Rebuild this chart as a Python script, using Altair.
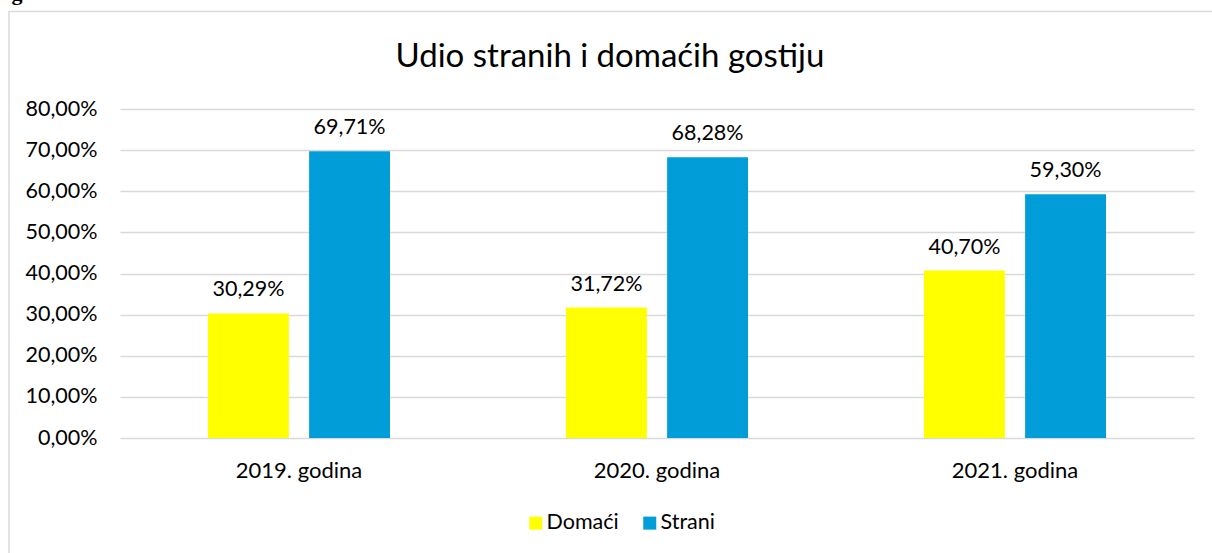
import altair as alt
import pandas as pd

title_text = "Udio stranih i domaćih gostiju"
categories = ["2019. godina", "2020. godina", "2021. godina"]
series = ["Domaći", "Strani"]
domaci = [30.29, 31.72, 40.70]
strani = [69.71, 68.28, 59.30]
colors = ["#FFFF00", "#009DD9"]
y_ticks = [0, 0.1, 0.2, 0.3, 0.4, 0.5, 0.6, 0.7, 0.8]

rows = []
for c, d, s in zip(categories, domaci, strani):
    for name, v in (("Domaći", d), ("Strani", s)):
        rows.append({"kategorija": c, "serija": name, "vrijednost": v / 100,
                     "oznaka": f"{v:.2f}%".replace(".", ",")})
df = pd.DataFrame(rows)

FONT = "Lato"
TXT = "#000000"
FS = 21.5
W, H = 1074, 329

x_enc = alt.X("kategorija:N", sort=categories, title=None,
              scale=alt.Scale(paddingInner=0.4916, paddingOuter=0.2458),
              axis=alt.Axis(labelAngle=0, domain=False, ticks=False, tickSize=0,
                            labelPadding=39, labelBaseline="alphabetic",
                            labelFont=FONT, labelFontSize=22, labelColor=TXT, grid=False))
xo_enc = alt.XOffset("serija:N", sort=series,
                     scale=alt.Scale(paddingInner=0.2, paddingOuter=0))
y_enc = alt.Y("vrijednost:Q", title=None,
              scale=alt.Scale(domain=[0, 0.8], nice=False, zero=True),
              axis=alt.Axis(values=y_ticks, domain=False, ticks=False, tickSize=0,
                            labelPadding=23, labelFont=FONT, labelFontSize=FS,
                            labelColor=TXT, gridColor="#d9d9d9", gridWidth=1.3,
                            labelExpr="replace(format(datum.value, '.2%'), '.', ',')"))

base = alt.Chart(df)

bars = base.mark_bar().encode(
    x=x_enc, xOffset=xo_enc, y=y_enc,
    color=alt.Color("serija:N", sort=series, title=None,
                    scale=alt.Scale(domain=series, range=colors),
                    legend=alt.Legend(orient="none", direction="horizontal",
                                      legendX=405, legendY=403, padding=0,
                                      symbolType="square", symbolSize=169,
                                      symbolStrokeWidth=0, labelOffset=0,
                                      columnPadding=20, labelFont=FONT,
                                      labelFontSize=FS, labelColor=TXT)),
)

labels = base.mark_text(baseline="alphabetic", dy=-17, font=FONT, fontSize=FS,
                        color=TXT).encode(
    x=alt.X("kategorija:N", sort=categories), xOffset=xo_enc,
    y=alt.Y("vrijednost:Q"), text="oznaka:N")

one_df = pd.DataFrame({"naslov": [title_text]})
frame = alt.Chart(one_df).mark_rect(fill=None, stroke="#d9d9d9", strokeWidth=1.5).encode(
    x=alt.value(-111), x2=alt.value(1110), y=alt.value(-97.5), y2=alt.value(460))

cut = alt.Chart(one_df).mark_text(text="g", font="Liberation Serif", fontWeight="bold",
                                  fontSize=22, baseline="alphabetic", color=TXT).encode(
    x=alt.value(-103), y=alt.value(-109.5))

title = alt.Chart(one_df).mark_text(font=FONT, fontSize=33, align="center",
                                    baseline="alphabetic", color=TXT).encode(
    text="naslov:N", x=alt.value(490), y=alt.value(-42))

chart = alt.layer(frame, cut, title, bars, labels).properties(
    width=W, height=H,
    background="white",
    padding={"left": 120, "top": 109, "right": 18, "bottom": 115},
    autosize=alt.AutoSizeParams(type="none"),
).configure_view(strokeWidth=0, stroke="transparent")

chart.save("out.html", embed_options={"renderer": "svg", "actions": False})
